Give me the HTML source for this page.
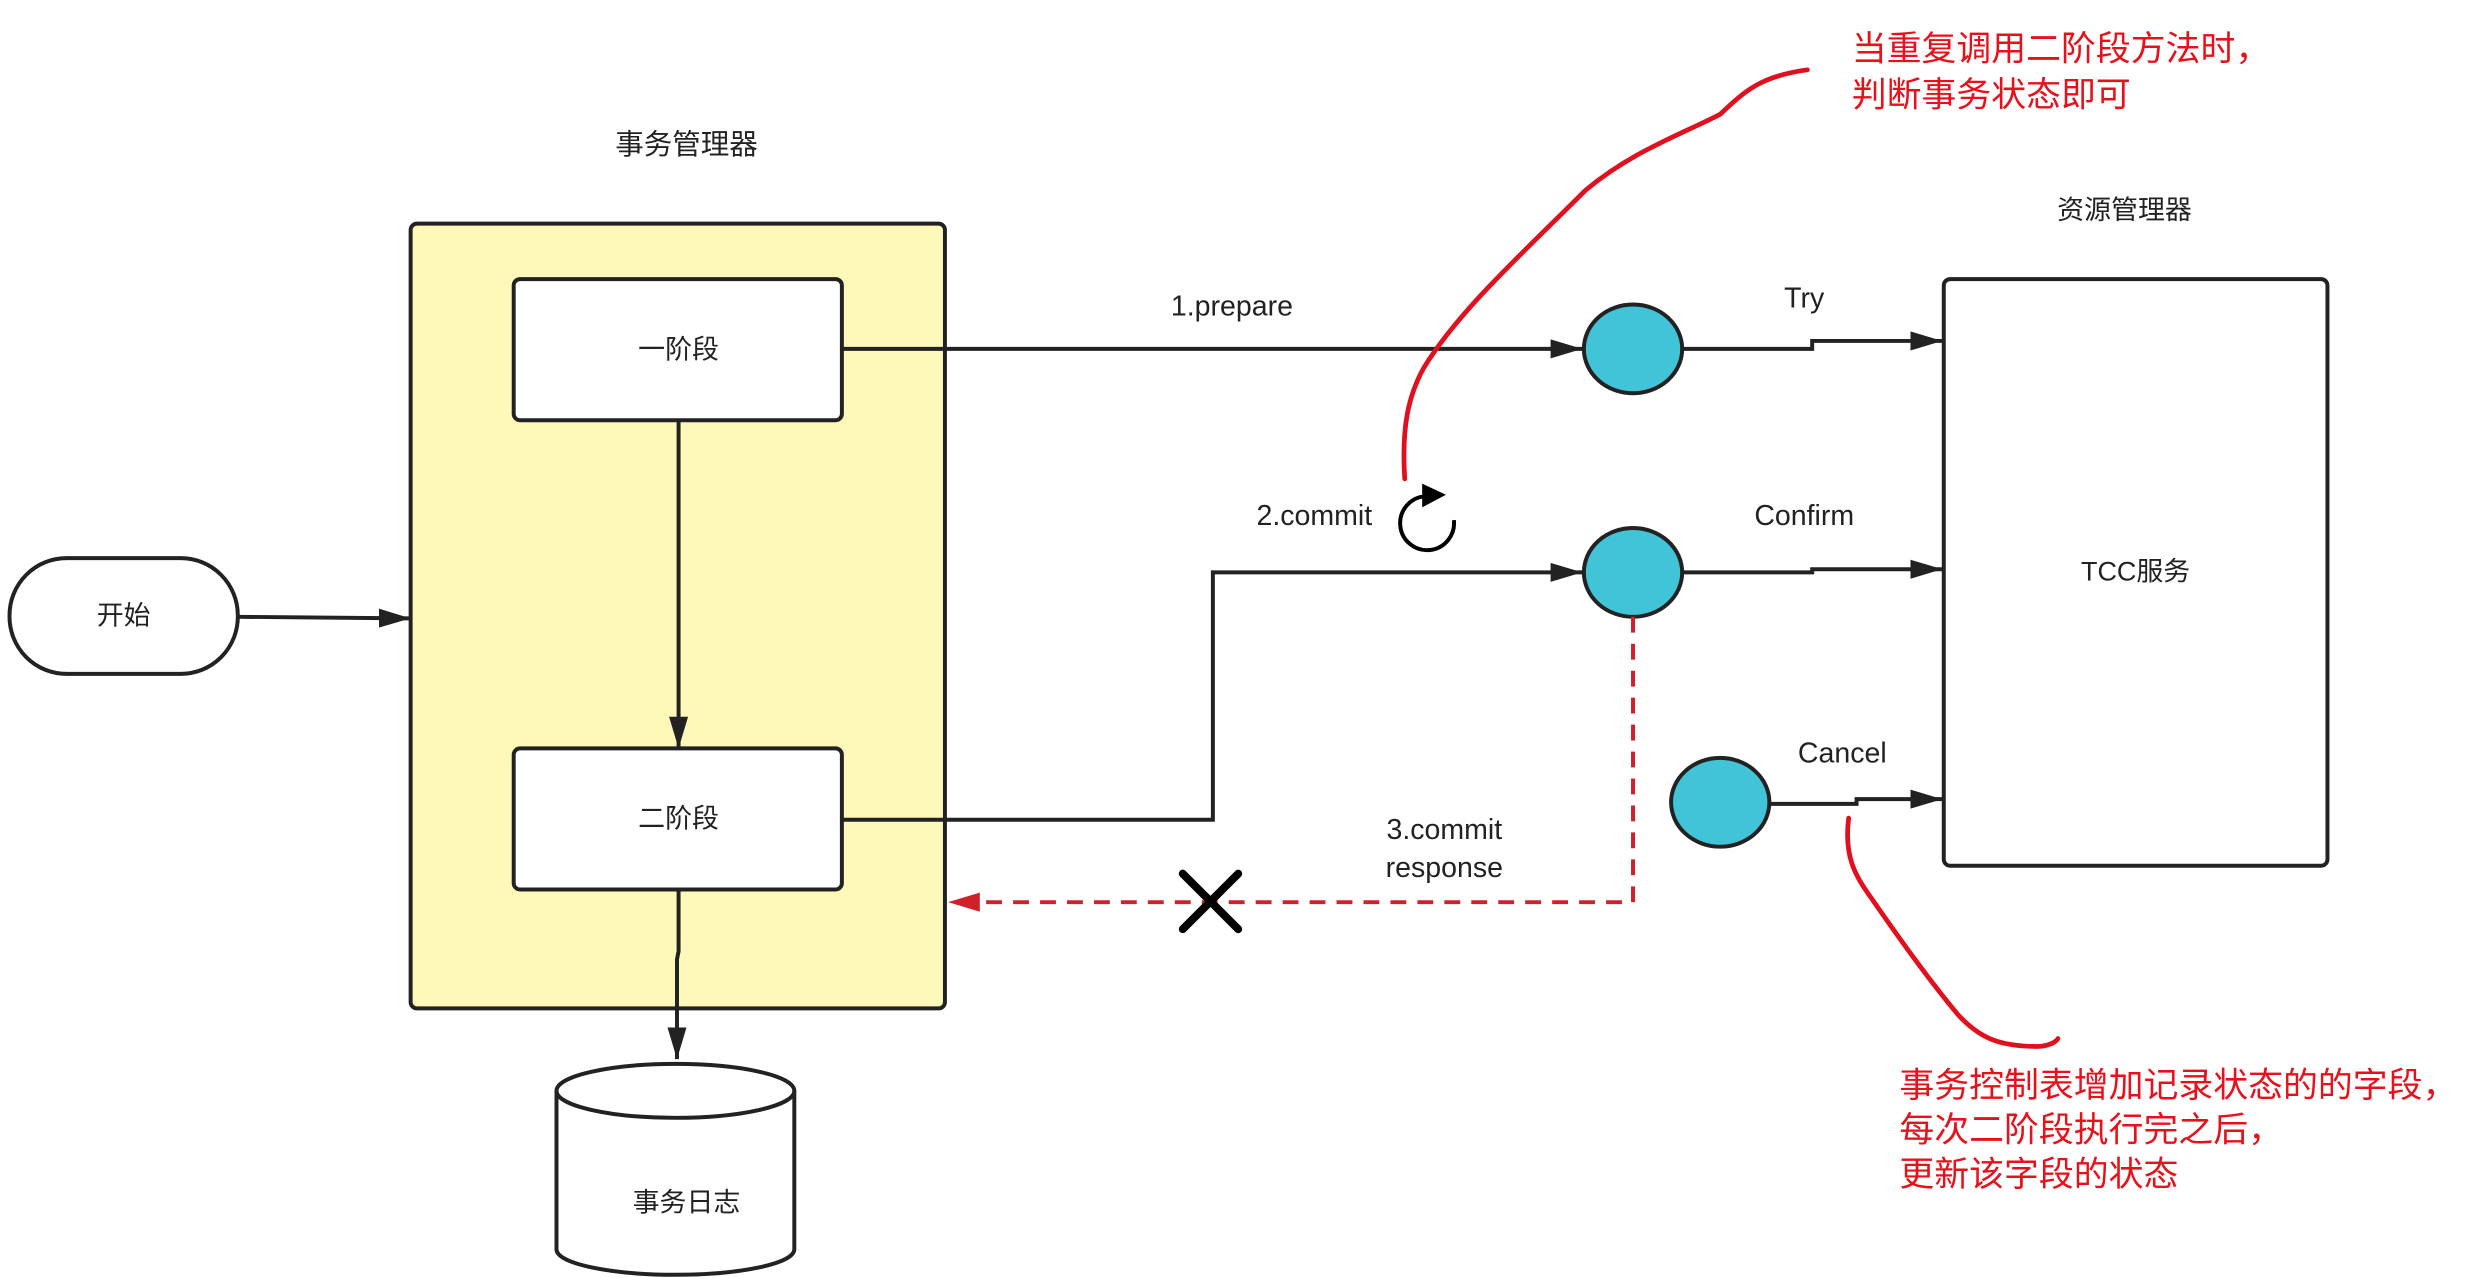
<!DOCTYPE html>
<html><head><meta charset="utf-8"><style>
html,body{margin:0;padding:0;background:#fff;}
svg{display:block;}
text{font-family:"Liberation Sans","Noto Sans CJK SC",sans-serif;fill:#222;}
.r{fill:#e8101a;}
</style></head><body>
<svg width="2486" height="1278" viewBox="0 0 1568 806" xmlns="http://www.w3.org/2000/svg">
<defs>
<marker id="b" viewBox="0 0 20 12" markerWidth="20" markerHeight="12" refX="20" refY="6" orient="auto" markerUnits="userSpaceOnUse"><path d="M0,0 L20,6 L0,12 z" fill="#222"/></marker>
<marker id="rb" viewBox="0 0 20 12" markerWidth="20" markerHeight="12" refX="20" refY="6" orient="auto" markerUnits="userSpaceOnUse"><path d="M0,0 L20,6 L0,12 z" fill="#d0202a"/></marker>
</defs>

<text x="433" y="97" font-size="18" text-anchor="middle">事务管理器</text>
<rect x="259" y="141" width="337" height="495" rx="4" fill="#fff9b9" stroke="#222" stroke-width="2.5"/>
<rect x="324" y="176" width="207" height="89" rx="4" fill="#fff" stroke="#222" stroke-width="2.5"/>
<text x="428" y="226" font-size="17" text-anchor="middle">一阶段</text>
<rect x="324" y="472" width="207" height="89" rx="4" fill="#fff" stroke="#222" stroke-width="2.5"/>
<text x="428" y="522" font-size="17" text-anchor="middle">二阶段</text>
<line x1="428" y1="265" x2="428" y2="472" stroke="#222" stroke-width="2.5" marker-end="url(#b)"/>

<rect x="6" y="352" width="144" height="73" rx="36" fill="#fff" stroke="#222" stroke-width="2.5"/>
<text x="78" y="394" font-size="17" text-anchor="middle">开始</text>
<line x1="150" y1="389" x2="259" y2="390" stroke="#222" stroke-width="2.5" marker-end="url(#b)"/>

<path d="M428,561 L428,600 L427,605 L427,668" fill="none" stroke="#222" stroke-width="2.5" marker-end="url(#b)"/>
<path d="M351,688 L351,788 A75,16 0 0 0 501,788 L501,688" fill="#fff" stroke="#222" stroke-width="2.5"/>
<ellipse cx="426" cy="688" rx="75" ry="17" fill="#fff" stroke="#222" stroke-width="2.5"/>
<text x="433" y="764" font-size="17" text-anchor="middle">事务日志</text>

<text x="777" y="199" font-size="18" text-anchor="middle">1.prepare</text>
<line x1="531" y1="220" x2="998" y2="220" stroke="#222" stroke-width="2.5" marker-end="url(#b)"/>
<ellipse cx="1030" cy="220" rx="31" ry="28" fill="#42c4d8" stroke="#222" stroke-width="2.5"/>
<path d="M1061,220 L1143,220 L1143,215 L1225,215" fill="none" stroke="#222" stroke-width="2.5" marker-end="url(#b)"/>
<text x="1138" y="194" font-size="18" text-anchor="middle">Try</text>

<text x="1340" y="138" font-size="17" text-anchor="middle">资源管理器</text>
<rect x="1226" y="176" width="242" height="370" rx="4" fill="#fff" stroke="#222" stroke-width="2.5"/>
<text x="1347" y="366" font-size="17" text-anchor="middle">TCC服务</text>

<path d="M531,517 L765,517 L765,361 L998,361" fill="none" stroke="#222" stroke-width="2.5" marker-end="url(#b)"/>
<ellipse cx="1030" cy="361" rx="31" ry="28" fill="#42c4d8" stroke="#222" stroke-width="2.5"/>
<path d="M1061,361 L1143,361 L1143,359 L1225,359" fill="none" stroke="#222" stroke-width="2.5" marker-end="url(#b)"/>
<text x="1138" y="331" font-size="18" text-anchor="middle">Confirm</text>
<text x="829" y="331" font-size="18" text-anchor="middle">2.commit</text>
<path d="M899,313 A17,17 0 1 0 917,328" fill="none" stroke="#000" stroke-width="2.5"/>
<path d="M897,305 L912,312 L897,320 z" fill="#000"/>

<ellipse cx="1085" cy="506" rx="31" ry="28" fill="#42c4d8" stroke="#222" stroke-width="2.5"/>
<path d="M1116,507 L1171,507 L1171,504 L1225,504" fill="none" stroke="#222" stroke-width="2.5" marker-end="url(#b)"/>
<text x="1162" y="481" font-size="18" text-anchor="middle">Cancel</text>

<path d="M1030,389 L1030,569 L598,569" fill="none" stroke="#d0202a" stroke-width="2.5" stroke-dasharray="10,7" marker-end="url(#rb)"/>
<text x="911" y="529" font-size="18" text-anchor="middle">3.commit</text>
<text x="911" y="553" font-size="18" text-anchor="middle">response</text>
<path d="M746,551 L781,586 M781,551 L746,586" stroke="#000" stroke-width="5" stroke-linecap="round"/>

<path d="M886,302 C884,270 888,250 898,232 C920,196 960,160 1000,120 C1030,95 1060,85 1085,72 C1100,58 1110,48 1140,44" fill="none" stroke="#e0101e" stroke-width="3" stroke-linecap="round"/>
<text x="1168" y="38" font-size="22" class="r">当重复调用二阶段方法时，</text>
<text x="1168" y="67" font-size="22" class="r">判断事务状态即可</text>
<path d="M1166,516 C1163,540 1170,552 1180,566 C1200,595 1220,622 1235,640 C1248,654 1260,660 1285,660 C1292,660 1297,657 1298,655" fill="none" stroke="#e0101e" stroke-width="3" stroke-linecap="round"/>
<text x="1198" y="692" font-size="22" class="r">事务控制表增加记录状态的的字段，</text>
<text x="1198" y="720" font-size="22" class="r">每次二阶段执行完之后，</text>
<text x="1198" y="748" font-size="22" class="r">更新该字段的状态</text>
</svg>
</body></html>
